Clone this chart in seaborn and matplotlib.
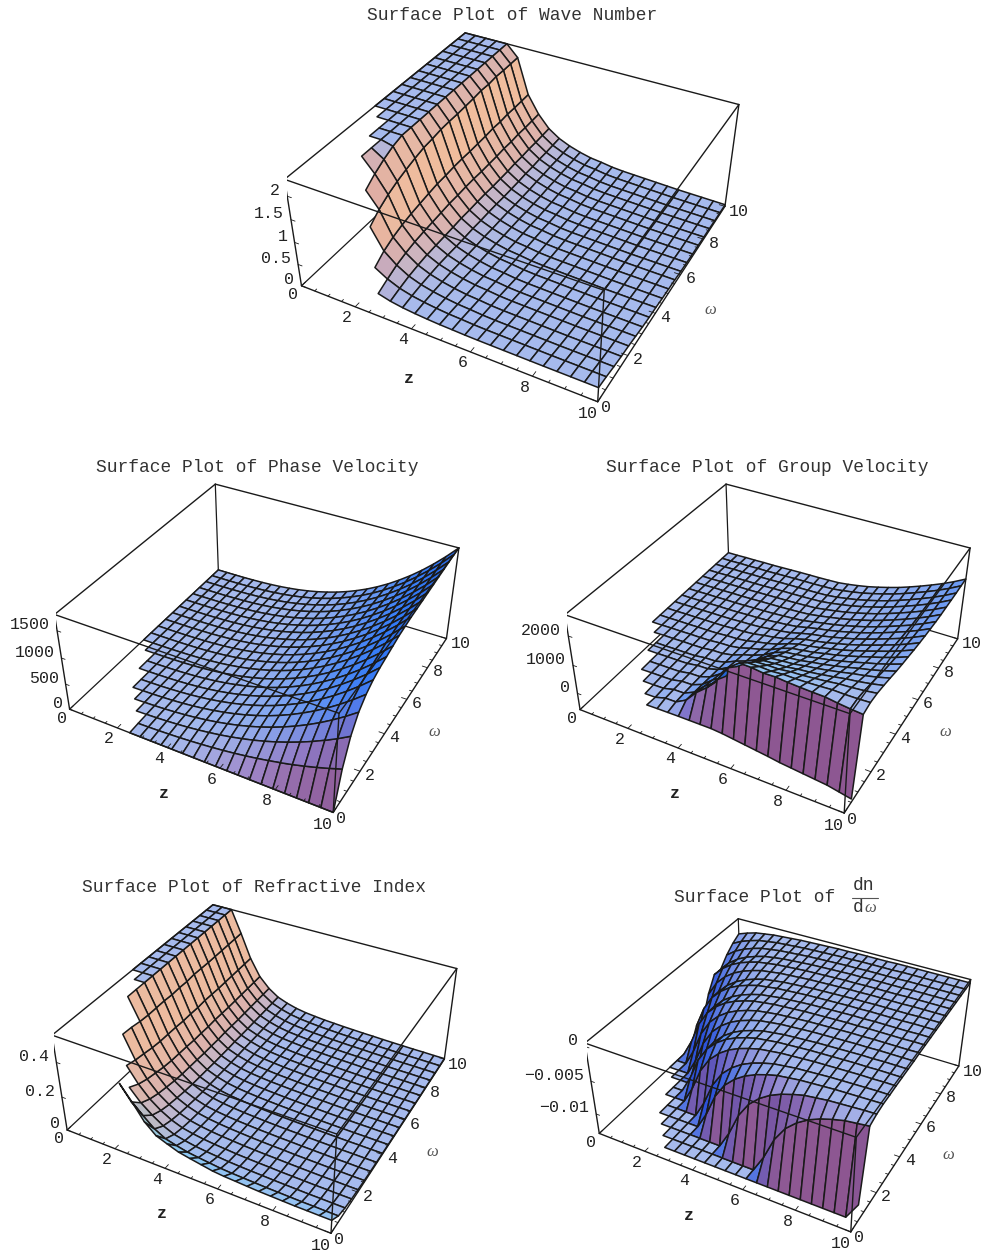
import numpy as np
import matplotlib
matplotlib.use("Agg")
import matplotlib.pyplot as plt
import seaborn as sns
from matplotlib.lines import Line2D
from mpl_toolkits.mplot3d import proj3d
from mpl_toolkits.mplot3d.art3d import Poly3DCollection

# mesh of the original plot: 25 z columns, 21 omega rows on 0..10
z_grid = np.linspace(0, 10, 25)
w_grid = np.linspace(0, 10, 21)

# first omega row that exists for each z column
first_row = [9, 8, 6, 4, 3, 2, 0, 0, 0, 0, 0, 0, 0, 0, 0, 0, 0, 0, 0, 0, 0, 0, 0, 0, 0]
wn_first_row = [9, 8, 6, 4, 3, 2, 1, 0, 0, 0, 0, 0, 0, 0, 0, 0, 0, 0, 0, 0, 0, 0, 0, 0, 0]

# wave number
wn_z = [4.5, 4.5, 4.5, 3.6, 2.6, 2.1, 1.3, .9, .62, .45, .34, .26, .2, .17, .13, .11, .1, .09, .08, .07, .06, .055, .05, .045, .04]
wn_w = [.25, .4, .55, .65, .72, .78, .83, .87, .9, .92, .94, .95, .96, .97, .98, .99, .99, 1, 1, 1, 1]
wn_lift = [.31, .28, .24, .21, .19, .16, .13, .11, .1, .08, .07, .06, .04, .03, .02, .02, .01, .01, 0, 0, 0]

# phase velocity
pv_z = [0, 0, 1, 3, 9, 16, 28, 44, 66, 94, 129, 172, 224, 284, 355, 437, 530, 636, 755, 889, 1036, 1199, 1379, 1575, 1790]
pv_w = [0, .35, .58, .72, .8, .85, .88, .9, .92, .94, .95, .96, .965, .97, .975, .98, .985, .99, .995, 1, 1]

# group velocity
gv_z = [100, 100, 110, 110, 120, 120, 130, 140, 150, 155, 160, 170, 185, 230, 290, 360, 450, 550, 660, 790, 930, 1080, 1240, 1420, 1620]
gv_wall_z = [0, 0, 0, 0, 0, 0, 0, 100, 100, 300, 700, 1000, 1400, 1900, 2150, 2100, 2000, 1950, 1850, 1750, 1650, 1550, 1400, 1250, 1100]
gv_wall_w = [0, 0, 1, .85, .72, .6, .5, .41, .33, .26, .2, .15, .11, .08, .05, .03, .02, .01, 0, 0, 0]
gv_low = [100, 100, 100, 100, 100, 100, 110, 120, 125, 130, 130, 130, 130, 100, 50, 0, -50, -100, -160, -200, -240, -280, -320, -400, -480]

# refractive index
ri_z = [.65, .65, .65, .42, .28, .18, .12, .08, .058, .042, .032, .026, .021, .018, .015, .013, .011, .01, .008, .007, .006, .005, .005, .004, .004]
ri_w = [.5, .68, .8, .87, .91, .94, .95, .96, .97, .98, .98, .99, .99, 1, 1, 1, 1, 1, 1, 1, 1]
ri_lift_z = [.42, .42, .42, .42, .42, .42, .35, .29, .21, .16, .14, .12, .11, .1, .09, .085, .083, .08, .078, .077, .076, .075, .075, .075, .075]
ri_lift_w = [1, .5, .3, .2, .14, .1, .07, .05, .04, .03, .02, .015, .01, .01, .005, 0, 0, 0, 0, 0, 0]

# dn/domega: every omega row follows the same rise, starting at its own column
dn_rise = [-.0131, -.0105, -.0072, -.005, -.0036, -.0026, -.0019, -.0014, -.001, -.0008, -.0006, -.0005, -.0004, -.0003, -.00025,
           -.0002, -.00015, -.0001, -.0001, -.00005, -.00005, -.00005, -.00005, 0, 0, 0, 0, 0, 0, 0, 0, 0, 0, 0, 0]
dn_start = [99, 23, 14, 10, 7, 6, 4, 3, 3, 2, 1, 0, 0, -1, -1, -2, -3, -3, -4, -5, -6]

titles = ["Surface Plot of Wave Number", "Surface Plot of Phase Velocity", "Surface Plot of Group Velocity",
          "Surface Plot of Refractive Index", "Surface Plot of"]
height_ticks = [[0, .5, 1, 1.5, 2], [0, 500, 1000, 1500], [0, 1000, 2000], [0, .2, .4], [0, -.005, -.01]]
height_labels = [["0", "0.5", "1", "1.5", "2"], ["0", "500", "1000", "1500"], ["0", "1000", "2000"], ["0", "0.2", "0.4"],
                 ["0", "-0.005", "-0.01"]]
axis_ticks = [0, 2, 4, 6, 8, 10]
height_ranges = [(0, 2.35), (0, 1790), (-600, 2700), (0, .55), (-.0131, .0005)]

# corners of each box in reference pixels: BL, BF, BR, TL, TF, TR, TB
box_pixels = [
    [(301, 286), (598, 402), (725, 205), (285, 180), (604, 290), (739, 105), (465, 33)],
    [(69, 710), (333, 812), (447, 639), (55, 614), (340, 713), (458, 548), (215, 484)],
    [(580, 710), (844, 813), (957, 639), (565, 614), (851, 714), (970, 548), (726, 484)],
    [(67, 1131), (331, 1233), (444, 1060), (52, 1035), (337, 1133), (457, 968), (213, 905)],
    [(599, 1134), (851, 1233), (959, 1067), (585, 1043), (855, 1133), (972, 981), (738, 919)],
]
title_pixels = [(512, 16), (257, 468), (767, 468), (254, 888), (755, 897)]
zlabel_pixels = [(409, 379), (164, 794), (675, 794), (162, 1214), (689, 1216)]
wlabel_pixels = [(710, 310), (434, 732), (945, 732), (432, 1152), (948, 1155)]

W, H = 986, 1254
MONO = "Liberation Mono"
SERIF = "Liberation Serif"

sns.set_theme(style="white")
plt.rcParams["font.family"] = [MONO, "DejaVu Sans"]

# colour of a facet as it tilts away from flat, towards each side
FLAT = (.65, .73, .93)
ramp_zpos = sns.blend_palette([FLAT, (.86, .7, .68), (.96, .75, .6)], n_colors=101)
ramp_zneg = sns.blend_palette([FLAT, (.2, .48, .97), (.02, .03, .38)], n_colors=101)
ramp_wneg = sns.blend_palette([FLAT, (.62, .52, .78), (.55, .33, .56)], n_colors=101)
ramp_wpos = sns.blend_palette([FLAT, (.5, .8, .97), (.6, .95, .9)], n_colors=101)


def heights():
    h_wn = np.outer(wn_w, wn_z) + np.array(wn_lift)[:, None]
    h_pv = np.outer(pv_w, pv_z)
    h_gv = np.outer(pv_w, gv_z) + np.outer(gv_wall_w, gv_wall_z)
    h_gv[1] = gv_low
    h_gv[0] = np.nan
    h_ri = np.outer(ri_w, ri_z) + np.outer(ri_lift_w, ri_lift_z)
    h_dn = np.full((21, 25), np.nan)
    for r in range(1, 21):
        for c in range(25):
            h_dn[r, c] = dn_rise[max(0, min(c - dn_start[r], len(dn_rise) - 1))]
    return [h_wn, h_pv, h_gv, h_ri, h_dn]


def facets(h, low, high, starts):
    polys, colors = [], []
    h = np.clip(h, low, high)
    span = high - low
    for r in range(20):
        for c in range(24):
            if r < starts[c] or r < starts[c + 1]:
                continue
            cell = h[r:r + 2, c:c + 2]
            if np.isnan(cell).any():
                continue
            x0, x1 = z_grid[c], z_grid[c + 1]
            y0, y1 = w_grid[r], w_grid[r + 1]
            polys.append([(x0, y0, cell[0, 0]), (x1, y0, cell[0, 1]), (x1, y1, cell[1, 1]), (x0, y1, cell[1, 0])])
            # normal in box units (1 x 1 x 0.4)
            dhdx = .4 * ((cell[0, 1] + cell[1, 1]) - (cell[0, 0] + cell[1, 0])) / 2 / span / (x1 - x0) * 10
            dhdy = .4 * ((cell[1, 0] + cell[1, 1]) - (cell[0, 0] + cell[0, 1])) / 2 / span / (y1 - y0) * 10
            n = np.array([-dhdx, -dhdy, 1.0])
            n /= np.linalg.norm(n)
            col = np.array(FLAT)
            ramp_x = ramp_zpos if n[0] > 0 else ramp_zneg
            ramp_y = ramp_wpos if n[1] > 0 else ramp_wneg
            col = col + (np.array(ramp_x[int(100 * n[0] ** 2)]) - FLAT) + (np.array(ramp_y[int(100 * n[1] ** 2)]) - FLAT)
            colors.append(np.clip(col, 0, 1))
    return polys, colors


def fit_axes(ax, corners, pixels):
    # move and scale the axes so the projected box lands on the reference corners
    ax.apply_aspect()
    M = ax.get_proj()
    uv = np.array([proj3d.proj_transform(*p, M)[:2] for p in corners])
    target = np.array([(x, H - y) for x, y in pixels], dtype=float)
    du = uv - uv.mean(axis=0)
    dt = target - target.mean(axis=0)
    S = (du * dt).sum() / (du ** 2).sum()
    pos = ax.get_position()
    x00, y00 = pos.x0 * W, pos.y0 * H
    w0 = pos.width * W
    p0, p1 = ax.transData.transform([(0, 0), (1e-3, 0)])
    S0 = (p1[0] - p0[0]) / 1e-3
    w1 = w0 * S / S0
    ox = target[:, 0].mean() - S * uv[:, 0].mean()
    oy = target[:, 1].mean() - S * uv[:, 1].mean()
    x1 = ox - (p0[0] - x00) * w1 / w0
    y1 = oy - (p0[1] - y00) * w1 / w0
    ax.set_position([x1 / W, y1 / H, w1 / W, w1 / H])


def label(ax, x, y, h, text, dx, dy, ha="center"):
    u, v, _ = proj3d.proj_transform(x, y, h, ax.get_proj())
    ax.annotate(text, (u, v), xytext=(dx, dy), textcoords="offset pixels", ha=ha, va="center",
                fontsize=12, color="#222222", zorder=10, annotation_clip=False)


def draw_panel(fig, i, h):
    low, high = height_ranges[i]
    ax = fig.add_axes([.1, .1, 400 / W, 400 / H], projection="3d", computed_zorder=False)
    ax.set_proj_type("persp", focal_length=.438)
    ax.set_box_aspect((1, 1, .4))
    ax.view_init(elev=36.3, azim=-61.6)
    ax.set_xlim(0, 10)
    ax.set_ylim(0, 10)
    ax.set_zlim(low, high)
    ax.set_axis_off()
    ax.patch.set_alpha(0)

    bl, bf, br, bb = (0, 0, low), (10, 0, low), (10, 10, low), (0, 10, low)
    tl, tf, tr, tb = (0, 0, high), (10, 0, high), (10, 10, high), (0, 10, high)
    fit_axes(ax, [bl, bf, br, tl, tf, tr, tb], box_pixels[i])

    for a, b in [(bl, bb), (bb, br), (bb, tb)]:
        ax.plot(*zip(a, b), color="k", lw=.9, zorder=1)
    polys, colors = facets(h, low, high, wn_first_row if i == 0 else first_row)
    ax.add_collection3d(Poly3DCollection(polys, facecolors=colors, edgecolors="k", linewidths=1.1, zorder=2))
    for a, b in [(tl, tb), (tb, tr), (tr, br), (tl, bl), (bl, bf), (bf, br), (tl, tf), (tf, tr), (tf, bf)]:
        ax.plot(*zip(a, b), color="k", lw=1.0, zorder=3)

    # tick marks along the three axes
    for t in np.arange(0, 10.01, .5):
        size = .2 if t % 2 == 0 else .1
        ax.plot([t, t], [0, size], [low, low], color="k", lw=.6, zorder=3)
        ax.plot([10 - size, 10], [t, t], [low, low], color="k", lw=.6, zorder=3)
    for t in height_ticks[i]:
        ax.plot([0, .15], [0, 0], [t, t], color="k", lw=.6, zorder=3)

    for t in axis_ticks:
        text = str(t)
        if t == 0:
            label(ax, t, 0, low, text, -8, -9)
            label(ax, 10, t, low, text, 8, -6)
        elif t == 10:
            label(ax, t, 0, low, text, -10, -12)
            label(ax, 10, t, low, text, 14, -5)
        else:
            label(ax, t, 0, low, text, -8, -11)
            label(ax, 10, t, low, text, 10, -4)
    for t, text in zip(height_ticks[i], height_labels[i]):
        label(ax, 0, 0, t, text.replace("-", "\u2212"), -7, 6, ha="right")


def main():
    fig = plt.figure(figsize=(W / 100, H / 100), dpi=100, facecolor="white")
    for i, h in enumerate(heights()):
        draw_panel(fig, i, h)
        tx, ty = title_pixels[i]
        fig.text(tx / W, 1 - ty / H, titles[i], ha="center", va="center", fontsize=12.9, color="#333333")
        zx, zy = zlabel_pixels[i]
        fig.text(zx / W, 1 - zy / H, "z", ha="center", va="center", fontsize=12, fontweight="bold", color="#222222")
        wx, wy = wlabel_pixels[i]
        fig.text(wx / W, 1 - wy / H, "\u03c9", ha="center", va="center", fontsize=12, style="italic", family=SERIF, color="#555555")
    # stacked fraction in the last title
    fig.text(864 / W, 1 - 886 / H, "dn", ha="center", va="center", fontsize=12.9, color="#333333")
    fig.add_artist(Line2D([852 / W, 878 / W], [1 - 898 / H, 1 - 898 / H], color="#555555", lw=.8))
    fig.text(858 / W, 1 - 908 / H, "d", ha="center", va="center", fontsize=12.9, color="#333333")
    fig.text(870 / W, 1 - 908 / H, "\u03c9", ha="center", va="center", fontsize=12, style="italic", family=SERIF, color="#555555")
    fig.savefig("out.png", dpi=100, facecolor="white")


if __name__ == "__main__":
    main()
